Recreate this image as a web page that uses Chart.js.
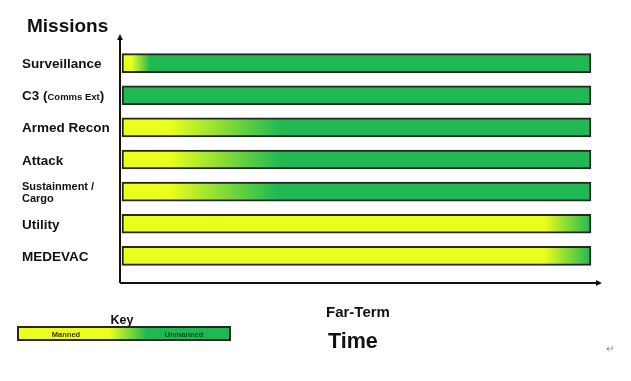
<!DOCTYPE html>
<html>
<head>
<meta charset="utf-8">
<script src="https://cdn.jsdelivr.net/npm/chart.js@4.4.1/dist/chart.umd.min.js"></script>
<style>
  html, body { margin: 0; padding: 0; background: #fff; }
  #wrap { position: relative; width: 631px; height: 381px; }
</style>
</head>
<body>
<div id="wrap"><canvas id="missionChart" width="631" height="381"></canvas></div>
<script>
// missions, top to bottom
const missions = ['Surveillance', 'C3 (Comms Ext)', 'Armed Recon', 'Attack', 'Sustainment / Cargo', 'Utility', 'MEDEVAC'];
// timeline span of each bar (0 = now, 100 = far-term)
const timeStart = [0, 0, 0, 0, 0, 0, 0];
const timeEnd   = [100, 100, 100, 100, 100, 100, 100];
// where the manned -> unmanned blend starts / ends (% of timeline)
const mannedUntil  = [2, 0, 10, 10, 10, 90, 90];
const unmannedFrom = [6, 0, 34, 34, 33, 100, 100];
// key legend blend
const keyLabels = ['Manned', 'Unmanned'];
const keyBlend  = [43, 61];

const YELLOW = '#eaff1c';
const GREEN  = '#1fb952';
const INK    = '#111';
const FONT   = '"Liberation Sans", Arial, sans-serif';

const blendFill = (ctx) => {
    const chart = ctx.chart;
    if (!chart.chartArea) return GREEN;
    const i = ctx.dataIndex;
    if (unmannedFrom[i] <= 0) return GREEN;
    const x = chart.scales.x;
    const g = chart.ctx.createLinearGradient(x.getPixelForValue(timeStart[i]), 0, x.getPixelForValue(timeEnd[i]), 0);
    g.addColorStop(0, YELLOW);
    g.addColorStop(Math.min(mannedUntil[i] / 100, 1), YELLOW);
    g.addColorStop(Math.min(unmannedFrom[i] / 100, 1), GREEN);
    g.addColorStop(1, GREEN);
    return g;
};

// mixed-size y labels, axes with arrows, key and footer texts
const decor = {
    id: 'decor',
    afterDraw(chart) {
        const { ctx, chartArea: ca, scales: { y } } = chart;
        ctx.save();
        ctx.fillStyle = INK;
        ctx.textBaseline = 'alphabetic';

        ctx.font = `bold 19px ${FONT}`;
        ctx.fillText('Missions', 27, 32);

        missions.forEach((m, i) => {
            const py = y.getPixelForValue(i);
            if (m.startsWith('C3')) {
                let x = 22;
                [['C3 (', 13.5], ['Comms Ext', 9.5], [')', 13.5]].forEach(([t, s]) => {
                    ctx.font = `bold ${s}px ${FONT}`;
                    ctx.fillText(t, x, py + 5);
                    x += ctx.measureText(t).width;
                });
            } else if (m.includes('/')) {
                ctx.font = `bold 11px ${FONT}`;
                ctx.fillText('Sustainment /', 22, py - 2);
                ctx.fillText('Cargo', 22, py + 10.5);
            } else {
                ctx.font = `bold 13.5px ${FONT}`;
                ctx.fillText(m, 22, py + 5);
            }
        });

        // axes
        const ax = ca.left, ay = ca.bottom + 11, top = ca.top - 13, right = ca.right + 4;
        ctx.strokeStyle = INK;
        ctx.lineWidth = 2;
        ctx.beginPath();
        ctx.moveTo(ax, ay); ctx.lineTo(ax, top + 4);
        ctx.moveTo(ax, ay); ctx.lineTo(right - 4, ay);
        ctx.stroke();
        ctx.beginPath();
        ctx.moveTo(ax, top); ctx.lineTo(ax - 3, top + 6); ctx.lineTo(ax + 3, top + 6); ctx.closePath();
        ctx.moveTo(right, ay); ctx.lineTo(right - 6, ay - 3); ctx.lineTo(right - 6, ay + 3); ctx.closePath();
        ctx.fill();

        // key
        ctx.font = `bold 12.5px ${FONT}`;
        ctx.textAlign = 'center';
        ctx.fillText('Key', 122, 324);
        const kx = 18, kw = 212, ky = 327, kh = 13;
        const kg = ctx.createLinearGradient(kx, 0, kx + kw, 0);
        kg.addColorStop(0, YELLOW);
        kg.addColorStop(keyBlend[0] / 100, YELLOW);
        kg.addColorStop(keyBlend[1] / 100, GREEN);
        kg.addColorStop(1, GREEN);
        ctx.fillStyle = kg;
        ctx.fillRect(kx, ky, kw, kh);
        ctx.strokeStyle = '#262626';
        ctx.strokeRect(kx, ky, kw, kh);
        ctx.font = `bold 7.5px ${FONT}`;
        ctx.fillStyle = '#3a3a10';
        ctx.fillText(keyLabels[0], 66, 337);
        ctx.fillStyle = '#0c4a1e';
        ctx.fillText(keyLabels[1], 184, 337);

        // footer
        ctx.textAlign = 'left';
        ctx.fillStyle = INK;
        ctx.font = `bold 15px ${FONT}`;
        ctx.fillText('Far-Term', 326, 317);
        ctx.font = `bold 21.5px ${FONT}`;
        ctx.fillText('Time', 328, 348);
        ctx.fillStyle = '#888';
        ctx.font = `10px ${FONT}`;
        ctx.fillText('↵', 606, 352);
        ctx.restore();
    }
};

new Chart(document.getElementById('missionChart'), {
    type: 'bar',
    data: {
        labels: missions,
        datasets: [{
            data: missions.map((_, i) => [timeStart[i], timeEnd[i]]),
            backgroundColor: blendFill,
            borderColor: '#262626',
            borderWidth: 2,
            borderSkipped: false,
            barThickness: 19
        }]
    },
    options: {
        indexAxis: 'y',
        responsive: false,
        animation: false,
        layout: { padding: { left: 120, right: 33, top: 47, bottom: 109 } },
        scales: {
            x: { display: false, min: -0.43, max: 101.5 },
            y: { display: false }
        },
        plugins: { legend: { display: false }, tooltip: { enabled: false } }
    },
    plugins: [decor]
});
</script>
</body>
</html>
